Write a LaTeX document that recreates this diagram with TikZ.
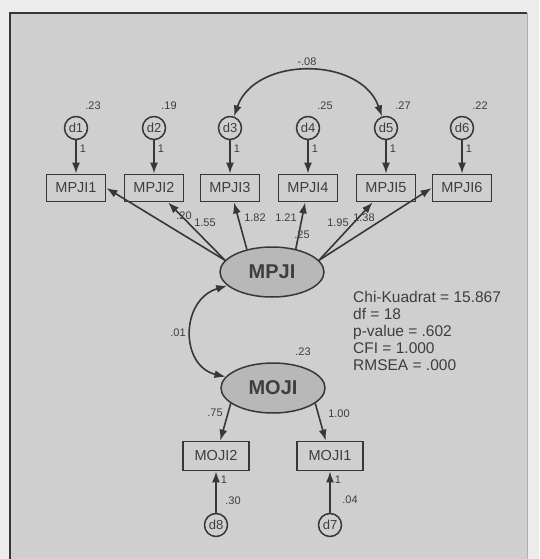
\documentclass[tikz,border=0pt]{standalone}
\usepackage{fontspec}
\setmainfont{Liberation Sans}
\usetikzlibrary{arrows.meta,shapes.geometric}
\definecolor{outgray}{RGB}{236,236,236}
\definecolor{panelgray}{RGB}{207,207,207}
\definecolor{latgray}{RGB}{184,184,184}
\definecolor{ink}{RGB}{55,55,55}
\definecolor{txt}{RGB}{62,62,62}

\begin{document}
\begin{tikzpicture}[x=1pt,y=-1pt,
  obs/.style={draw=ink,line width=1.8pt,fill=panelgray,minimum width=59pt,minimum height=27pt,inner sep=0pt,text=txt,font=\fontsize{14.5}{14.5}\selectfont},
  err/.style={circle,draw=ink,line width=1.5pt,minimum size=23pt,inner sep=0pt,text=txt,font=\fontsize{13}{13}\selectfont},
  lat/.style={ellipse,draw=ink,line width=1.5pt,fill=latgray,minimum width=104pt,minimum height=50pt,inner sep=0pt,text=txt,font=\fontsize{20}{20}\selectfont\bfseries},
  reg/.style={draw=ink,line width=1.6pt,-{Latex[length=11pt,width=8pt]}},
  cov/.style={draw=ink,line width=1.6pt,{Latex[length=11pt,width=8pt]}-{Latex[length=11pt,width=8pt]}},
  est/.style={inner sep=0pt,text=txt,font=\fontsize{11}{11}\selectfont}]
  \useasboundingbox (0,0) rectangle (539,559);
  \fill[outgray] (0,0) rectangle (539,559);
  \fill[panelgray] (10,13) rectangle (527,559);
  \draw[ink,line width=2pt] (10,559) -- (10,13) -- (527,13);
  \draw[ink!40,line width=1pt] (527,13) -- (527,559);

  % MPJI indicators and their errors
  \foreach \i/\x in {1/76,2/154,3/230,4/308,5/386,6/462}{
    \node[obs] (MPJI\i) at (\x,188) {MPJI\i};
    \node[err] (d\i) at (\x,128) {d\i};
    \draw[reg] (d\i) -- (MPJI\i);
    \node[est] (one\i) at (\x+7,149) {1};
  }
  \node[est] (v1) at (93,106) {.23};
  \node[est] (v2) at (169,106) {.19};
  \node[est] (v4) at (325,106) {.25};
  \node[est] (v5) at (403,106) {.27};
  \node[est] (v6) at (480,106) {.22};
  \draw[cov] (d3) .. controls (255,56) and (361,56) .. (d5);
  \node[est] (c35) at (307,62) {-.08};

  % latent variables
  \node[lat] (MPJI) at (272,272) {MPJI};
  \node[lat] (MOJI) at (273,388) {MOJI};
  \node[est] (vmoji) at (303,352) {.23};
  \draw[cov] (MPJI) .. controls (180,300) and (180,366) .. (MOJI);
  \node[est] (cmm) at (178,333) {.01};

  % loadings MPJI
  \draw[reg] (MPJI.166) -- (MPJI1.east);
  \draw[reg] (MPJI.166) -- (MPJI2);
  \draw[reg] (MPJI.138) -- (MPJI3);
  \draw[reg] (MPJI.44) -- (MPJI4);
  \draw[reg] (MPJI.14) -- (MPJI5);
  \draw[reg] (MPJI.14) -- (MPJI6.west);
  \node[est] (l2a) at (184,216) {.20};
  \node[est] (l2b) at (205,223) {1.55};
  \node[est] (l3) at (255,218) {1.82};
  \node[est] (l4a) at (286,218) {1.21};
  \node[est] (l4b) at (302,235) {.25};
  \node[est] (l5a) at (338,223) {1.95};
  \node[est] (l5b) at (364,218) {1.38};

  % MOJI indicators
  \node[obs,minimum width=66pt,minimum height=29pt] (MOJI2) at (216,456) {MOJI2};
  \node[obs,minimum width=66pt,minimum height=29pt] (MOJI1) at (330,456) {MOJI1};
  \node[err] (d8) at (216,525) {d8};
  \node[err] (d7) at (330,525) {d7};
  \draw[reg] (MOJI.200) -- (MOJI2);
  \draw[reg] (MOJI.340) -- (MOJI1);
  \draw[reg] (d8) -- (MOJI2);
  \draw[reg] (d7) -- (MOJI1);
  \node[est] (m2) at (215,413) {.75};
  \node[est] (m1) at (339,414) {1.00};
  \node[est] (o8) at (224,480) {1};
  \node[est] (o7) at (338,480) {1};
  \node[est] (v8) at (233,501) {.30};
  \node[est] (v7) at (350,500) {.04};

  % fit indices
  \node[anchor=north west,align=left,inner sep=0pt,text=txt,font=\fontsize{15.5}{17}\selectfont] (fit) at (353,291)
    {Chi-Kuadrat = 15.867\\df = 18\\p-value = .602\\CFI = 1.000\\RMSEA = .000};
\end{tikzpicture}
\end{document}
